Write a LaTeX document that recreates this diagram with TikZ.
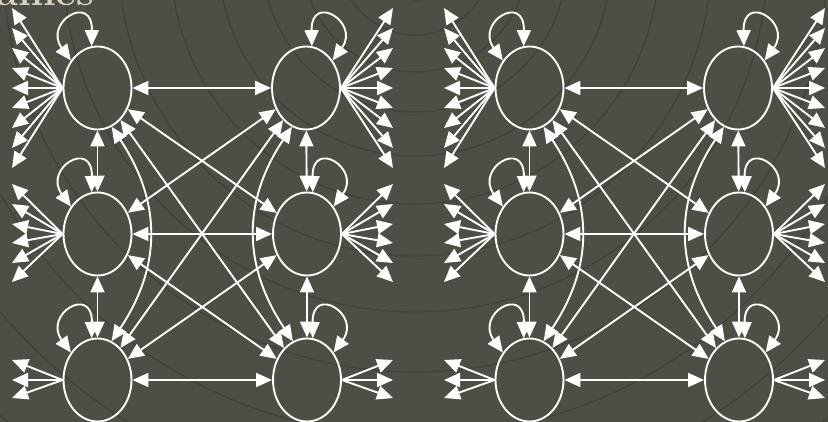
\documentclass[tikz,border=0pt]{standalone}
\usetikzlibrary{arrows.meta,calc,shapes.geometric}
\definecolor{bg}{RGB}{77,78,69}
\definecolor{gridc}{RGB}{63,64,56}
\definecolor{titlec}{RGB}{216,212,190}
\begin{document}
\begin{tikzpicture}[x=1pt,y=-1pt,
  st/.style={draw=white, line width=1.9pt, ellipse, minimum width=68pt, minimum height=83pt, inner sep=0pt},
  arr/.style={draw=white, line width=1.9pt, -{Triangle[length=16pt,width=14pt]}},
  darr/.style={draw=white, line width=1.9pt, {Triangle[length=16pt,width=14pt]}-{Triangle[length=16pt,width=14pt]}},
  gridline/.style={draw=gridc, line width=1.2pt}
]
\fill[bg] (0,0) rectangle (828,422);
\useasboundingbox (0,0) rectangle (828,422);
\clip (0,0) rectangle (828,422);
% faint background mesh
\foreach \a in {180,186,...,360} \draw[gridline] (415,-40) -- ++(\a:1200);
\foreach \r in {40,75,112,152,196,244,296,352,412,476,544,616,692}
  \draw[gridline] (415,-40) circle[radius=\r];
% cut-off title
\node[text=titlec, font=\bfseries\fontsize{40}{40}\selectfont, anchor=base west, inner sep=0pt] (title) at (-4,6) {ames};
\foreach \g/\dx in {L/0,R/432}{
\begin{scope}[xshift=\dx pt]
  \node[st] (\g A) at (97.5,88) {};
  \node[st] (\g B) at (306,88) {};
  \node[st] (\g C) at (97.5,234) {};
  \node[st] (\g D) at (307,234) {};
  \node[st] (\g E) at (97.5,380) {};
  \node[st] (\g F) at (307,380) {};
  % straight connections
  \draw[darr] (\g A) -- (\g B);
  \draw[darr] (\g C) -- (\g D);
  \draw[darr] (\g E) -- (\g F);
  \draw[darr] (\g A) -- (\g C);
  \draw[darr] (\g C) -- (\g E);
  \draw[darr] (\g B) -- (\g D);
  \draw[darr] (\g D) -- (\g F);
  \draw[darr] (\g A) -- (\g D);
  \draw[darr] (\g B) -- (\g C);
  \draw[darr] (\g A) -- (\g F);
  \draw[darr] (\g B) -- (\g E);
  \draw[darr] (\g C) -- (\g F);
  \draw[darr] (\g D) -- (\g E);
  % curved long connections
  \draw[darr] (\g A.-70) .. controls +(50,75) and +(50,-75) .. (\g E.70);
  \draw[darr] (\g B.-110) .. controls +(-50,75) and +(-50,-75) .. (\g F.110);
  % self loops
  \foreach \n in {A,C,E}
    \draw[darr] (\g\n.134) .. controls +(-28,-38) and +(1,-54) .. (\g\n.98);
  \foreach \n in {B,D,F}
    \draw[darr] (\g\n.46) .. controls +(28,-38) and +(-1,-54) .. (\g\n.82);
  % fans
  \foreach \d [count=\i] in {-80,-60,-40,-20,0,20,40,60,80}{
    \coordinate (\g ta\i) at (12,{88+(\d)});
    \draw[arr] (\g A.west) -- (\g ta\i);
    \coordinate (\g tb\i) at (393,{88+(\d)});
    \draw[arr] (\g B.east) -- (\g tb\i);
  }
  \foreach \d [count=\i] in {-50,-30,-10,9,29,48}{
    \coordinate (\g tc\i) at (12,{234+(\d)});
    \draw[arr] (\g C.west) -- (\g tc\i);
    \coordinate (\g td\i) at (393,{234+(\d)});
    \draw[arr] (\g D.east) -- (\g td\i);
  }
  \foreach \d [count=\i] in {-20,0,18}{
    \coordinate (\g te\i) at (12,{380+(\d)});
    \draw[arr] (\g E.west) -- (\g te\i);
    \coordinate (\g tf\i) at (393,{380+(\d)});
    \draw[arr] (\g F.east) -- (\g tf\i);
  }
\end{scope}
}
\end{tikzpicture}
\end{document}
